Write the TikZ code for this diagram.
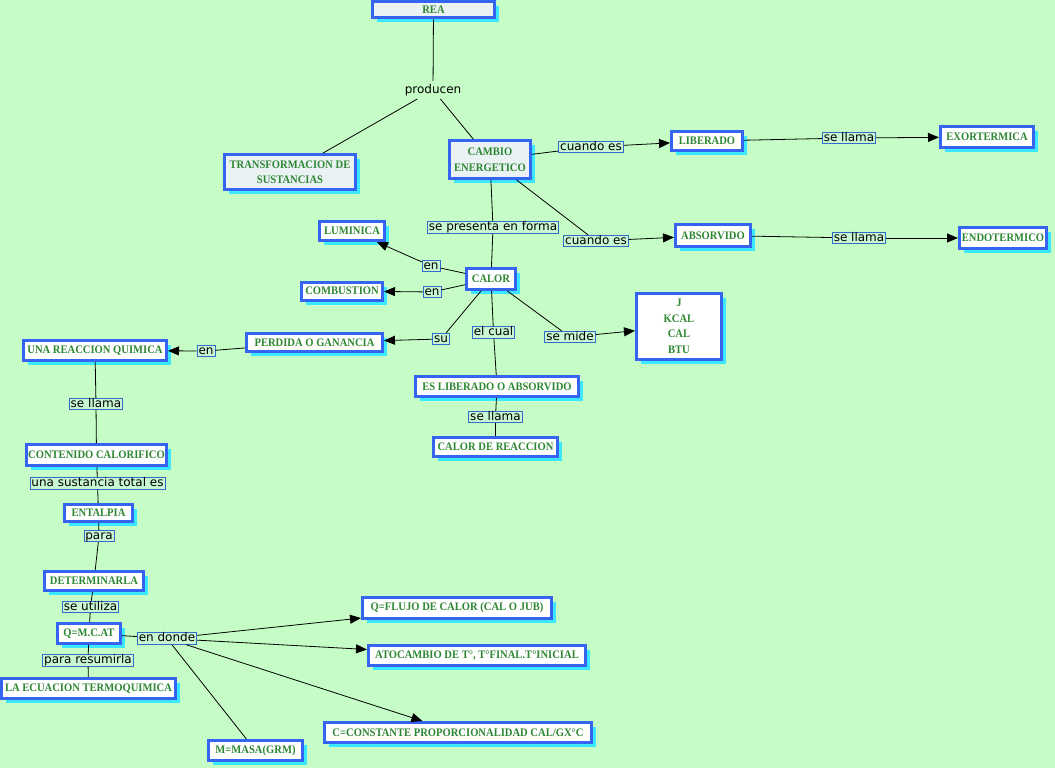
\documentclass[tikz,border=0pt]{standalone}
\usepackage{fontspec}
\usetikzlibrary{arrows.meta,shadows}
\newfontfamily\cmfont{Liberation Serif}[FakeStretch=0.92]
\newfontfamily\lbfont{DejaVu Sans}
\definecolor{bgc}{RGB}{198,253,198}
\definecolor{nodeblue}{RGB}{52,100,240}
\definecolor{shadowc}{RGB}{60,232,255}
\definecolor{nodegreen}{RGB}{45,135,50}
\definecolor{paleblue}{RGB}{234,242,244}
\definecolor{labblue}{RGB}{50,110,200}
\definecolor{labfill}{RGB}{200,247,210}
\tikzset{
  cnode/.style={draw=nodeblue, line width=3pt, fill=white, text=nodegreen,
    font=\cmfont\bfseries\fontsize{11.5}{15.5}\selectfont, inner sep=0pt, align=center,
    drop shadow={shadow xshift=4.5pt, shadow yshift=-4.5pt, fill=shadowc, opacity=1}},
  lab/.style={draw=labblue, line width=0.7pt, fill=labfill, text=black,
    font=\lbfont\fontsize{12}{14}\selectfont, inner xsep=1.5pt, inner ysep=0pt,
    text height=9pt, text depth=2.6pt},
  plainlab/.style={text=black, font=\lbfont\fontsize{12}{14}\selectfont, inner xsep=2pt, inner ysep=3pt},
  conn/.style={draw=black, line width=0.8pt},
  arr/.style={conn, -{Triangle[length=11pt,width=9pt]}},
}
\begin{document}
\begin{tikzpicture}[x=1pt,y=-1pt]
\fill[bgc] (0,0) rectangle (1055,768);
\useasboundingbox (0,0) rectangle (1055,768);
% concept nodes
\node[cnode, fill=paleblue, minimum width=122pt, minimum height=16pt] (rea) at (433.5,10) {REA};
\node[cnode, fill=paleblue, minimum width=131pt, minimum height=35pt] (trans) at (290,172) {TRANSFORMACION DE\\SUSTANCIAS};
\node[cnode, fill=paleblue, minimum width=81pt, minimum height=38pt] (cambio) at (490,159.5) {CAMBIO\\ENERGETICO};
\node[cnode, minimum width=71pt, minimum height=19pt] (liberado) at (707,141) {LIBERADO};
\node[cnode, minimum width=93pt, minimum height=21pt] (exor) at (987,137) {EXORTERMICA};
\node[cnode, minimum width=75pt, minimum height=22pt] (absor) at (713,235.5) {ABSORVIDO};
\node[cnode, minimum width=87pt, minimum height=21pt] (endo) at (1003,238) {ENDOTERMICO};
\node[cnode, minimum width=65pt, minimum height=19pt] (lumin) at (352,231) {LUMINICA};
\node[cnode, minimum width=81pt, minimum height=18pt] (combus) at (342,291) {COMBUSTION};
\node[cnode, minimum width=49pt, minimum height=21pt] (calor) at (491,279) {CALOR};
\node[cnode, minimum width=136pt, minimum height=18pt] (perdida) at (314.5,342.5) {PERDIDA O GANANCIA};
\node[cnode, minimum width=85pt, minimum height=66pt] (units) at (679,326.5) {J\\KCAL\\CAL\\BTU};
\node[cnode, minimum width=143pt, minimum height=20pt] (reaccion) at (95,350.5) {UNA REACCION QUIMICA};
\node[cnode, minimum width=163pt, minimum height=20pt] (esliber) at (497,386.5) {ES LIBERADO O ABSORVIDO};
\node[cnode, minimum width=124pt, minimum height=19pt] (calreac) at (495.5,447) {CALOR DE REACCION};
\node[cnode, minimum width=140pt, minimum height=21pt] (contenido) at (96.5,455) {CONTENIDO CALORIFICO};
\node[cnode, minimum width=68pt, minimum height=17pt] (entalpia) at (98.5,513) {ENTALPIA};
\node[cnode, minimum width=99pt, minimum height=19pt] (determ) at (94,581) {DETERMINARLA};
\node[cnode, minimum width=63pt, minimum height=20pt] (qmcat) at (89,633.5) {Q=M.C.AT};
\node[cnode, minimum width=174pt, minimum height=20pt] (ecuacion) at (88.5,688.5) {LA ECUACION TERMOQUIMICA};
\node[cnode, minimum width=94pt, minimum height=20pt] (masa) at (255.5,750.5) {M=MASA(GRM)};
\node[cnode, minimum width=189pt, minimum height=21pt] (flujo) at (457,608) {Q=FLUJO DE CALOR (CAL O JUB)};
\node[cnode, minimum width=217pt, minimum height=20pt] (atocambio) at (477,655.5) {ATOCAMBIO DE T°, T°FINAL.T°INICIAL};
\node[cnode, minimum width=267pt, minimum height=20pt] (constante) at (458,732.5) {C=CONSTANTE PROPORCIONALIDAD CAL/GX°C};
% linking phrases
\node[plainlab] (producen) at (433,90) {producen};
\node[lab] (ce1) at (591,147) {cuando es};
\node[lab] (sl1) at (849,138) {se llama};
\node[lab] (spf) at (493,227.5) {se presenta en forma};
\node[lab] (ce2) at (596,241) {cuando es};
\node[lab] (sl2) at (859,238) {se llama};
\node[lab] (en1) at (431,266) {en};
\node[lab] (en2) at (432,292) {en};
\node[lab] (su) at (441,339) {su};
\node[lab] (elcual) at (493.5,332.5) {el cual};
\node[lab] (semide) at (570,337) {se mide};
\node[lab] (en3) at (206,351) {en};
\node[lab] (sl4) at (96,404) {se llama};
\node[lab] (sl3) at (495.5,417) {se llama};
\node[lab] (ust) at (97.5,483.5) {una sustancia total es};
\node[lab] (para) at (99,536) {para};
\node[lab] (seut) at (90.5,607) {se utiliza};
\node[lab] (pres) at (88,660.5) {para resumirla};
\node[lab] (endonde) at (167,638.5) {en donde};
% connectors
\draw[conn] (rea) -- (producen);
\draw[conn] (producen) -- (trans);
\draw[conn] (producen) -- (cambio);
\draw[conn] (cambio) -- (ce1);
\draw[arr] (ce1) -- (liberado);
\draw[conn] (liberado) -- (sl1);
\draw[arr] (sl1) -- (exor);
\draw[conn] (cambio) -- (ce2);
\draw[arr] (ce2) -- (absor);
\draw[conn] (absor) -- (sl2);
\draw[arr] (sl2) -- (endo);
\draw[conn] (cambio) -- (spf);
\draw[conn] (spf) -- (calor);
\draw[conn] (calor) -- (en1);
\draw[arr] (en1) -- (lumin);
\draw[conn] (calor) -- (en2);
\draw[arr] (en2) -- (combus);
\draw[conn] (calor) -- (su);
\draw[arr] (su) -- (perdida);
\draw[conn] (calor) -- (elcual);
\draw[conn] (elcual) -- (esliber);
\draw[conn] (calor) -- (semide);
\draw[arr] (semide) -- (units);
\draw[conn] (esliber) -- (sl3);
\draw[conn] (sl3) -- (calreac);
\draw[conn] (perdida) -- (en3);
\draw[arr] (en3) -- (reaccion);
\draw[conn] (reaccion) -- (sl4);
\draw[conn] (sl4) -- (contenido);
\draw[conn] (contenido) -- (ust);
\draw[conn] (ust) -- (entalpia);
\draw[conn] (entalpia) -- (para);
\draw[conn] (para) -- (determ);
\draw[conn] (determ) -- (seut);
\draw[conn] (seut) -- (qmcat);
\draw[conn] (qmcat) -- (pres);
\draw[conn] (pres) -- (ecuacion);
\draw[conn] (qmcat) -- (endonde);
\draw[arr] (endonde) -- (flujo);
\draw[arr] (endonde) -- (atocambio);
\draw[arr] (endonde) -- (constante);
\draw[conn] (endonde) -- (masa);
\end{tikzpicture}
\end{document}
